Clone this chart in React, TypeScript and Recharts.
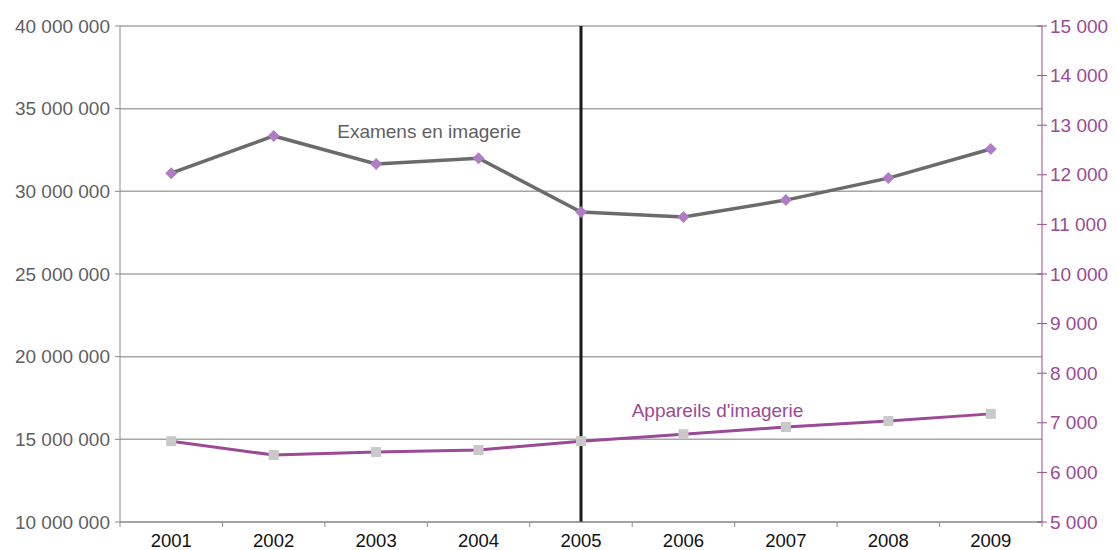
import { LineChart, Line, XAxis, YAxis, CartesianGrid, ReferenceLine } from 'recharts';

const years = ['2001', '2002', '2003', '2004', '2005', '2006', '2007', '2008', '2009'];
// examens en imagerie (axe gauche)
const examens = [31100000, 33350000, 31650000, 32000000, 28750000, 28450000, 29470000, 30800000, 32560000];
// appareils d'imagerie (axe droit)
const appareils = [6630, 6350, 6410, 6450, 6630, 6770, 6915, 7035, 7180];
const leftTicks = [10000000, 15000000, 20000000, 25000000, 30000000, 35000000, 40000000];
const rightTicks = [5000, 6000, 7000, 8000, 9000, 10000, 11000, 12000, 13000, 14000, 15000];

const data = years.map((year, i) => ({ year, examens: examens[i], appareils: appareils[i] }));

const W = 1118;
const H = 550;
const LEFT_W = 120;
const RIGHT_W = 76;
const BAND = (W - LEFT_W - RIGHT_W) / years.length;
const FONT = '"Liberation Sans", Arial, sans-serif';
const GREY_TXT = '#5f5f5f';
const PURPLE = '#9b4a96';
const AXIS = '#8c8c8c';

const fmt = (v: number) => String(Math.round(v)).replace(/\B(?=(\d{3})+(?!\d))/g, ' ');

function XTick({ x, y, payload, index }: any) {
  return (
    <g>
      <line x1={x - BAND / 2} x2={x - BAND / 2} y1={y} y2={y + 5} stroke={AXIS} />
      {index === years.length - 1 && (
        <line x1={x + BAND / 2} x2={x + BAND / 2} y1={y} y2={y + 5} stroke={AXIS} />
      )}
      <text x={x} y={y + 18} textAnchor="middle" dominantBaseline="central" fill="#111" fontSize={18.5} fontFamily={FONT}>
        {payload.value}
      </text>
    </g>
  );
}

function RightTick({ x, y, payload }: any) {
  return (
    <g>
      <line x1={x - 5} x2={x + 5} y1={y} y2={y} stroke={PURPLE} />
      <text x={x + 8} y={y} dominantBaseline="central" fill={PURPLE} fontSize={19} fontFamily={FONT}>
        {fmt(payload.value)}
      </text>
    </g>
  );
}

function ExamDot({ cx, cy, index }: any) {
  const r = 6;
  return (
    <g key={`e${index}`}>
      <polygon points={`${cx},${cy - r} ${cx + r},${cy} ${cx},${cy + r} ${cx - r},${cy}`} fill="#b07cc6" />
      {index === 2 && (
        <text x={cx + 53} y={cy - 33} textAnchor="middle" dominantBaseline="central" fill={GREY_TXT} fontSize={19} fontFamily={FONT}>
          Examens en imagerie
        </text>
      )}
    </g>
  );
}

function AppDot({ cx, cy, index }: any) {
  return (
    <g key={`a${index}`}>
      <rect x={cx - 5} y={cy - 5} width={10} height={10} fill="#c9c9c9" />
      {index === 5 && (
        <text x={cx + 34} y={cy - 24} textAnchor="middle" dominantBaseline="central" fill={PURPLE} fontSize={19} fontFamily={FONT}>
          Appareils d'imagerie
        </text>
      )}
    </g>
  );
}

export default function App() {
  return (
    <div style={{ width: W, height: H, background: '#fff' }}>
      <style>{'body{margin:0}'}</style>
      <LineChart width={W} height={H} data={data} margin={{ top: 26, right: 0, bottom: 0, left: 0 }}>
        <CartesianGrid yAxisId="left" vertical={false} stroke="#a6a6a6" strokeWidth={1.5} />
        <XAxis
          dataKey="year"
          height={28}
          padding={{ left: BAND / 2, right: BAND / 2 }}
          axisLine={{ stroke: AXIS }}
          tickLine={false}
          tickSize={0}
          tickMargin={0}
          tick={<XTick />}
          interval={0}
        />
        <YAxis
          yAxisId="left"
          orientation="left"
          width={LEFT_W}
          domain={[10000000, 40000000]}
          ticks={leftTicks}
          interval={0}
          axisLine={{ stroke: AXIS }}
          tickLine={{ stroke: AXIS }}
          tickSize={5}
          tickMargin={5}
          tickFormatter={fmt}
          tick={{ fill: GREY_TXT, fontSize: 19, fontFamily: FONT }}
        />
        <YAxis
          yAxisId="right"
          orientation="right"
          width={RIGHT_W}
          domain={[5000, 15000]}
          ticks={rightTicks}
          interval={0}
          axisLine={{ stroke: PURPLE }}
          tickLine={false}
          tickSize={0}
          tickMargin={0}
          tick={<RightTick />}
        />
        <Line
          yAxisId="left"
          dataKey="examens"
          stroke="#6b6b6b"
          strokeWidth={3.5}
          dot={(p: any) => <ExamDot {...p} />}
          activeDot={false}
          isAnimationActive={false}
        />
        <Line
          yAxisId="right"
          dataKey="appareils"
          stroke={PURPLE}
          strokeWidth={3}
          dot={(p: any) => <AppDot {...p} />}
          activeDot={false}
          isAnimationActive={false}
        />
        <ReferenceLine yAxisId="left" x="2005" stroke="#1a1a1a" strokeWidth={3} />
      </LineChart>
    </div>
  );
}
